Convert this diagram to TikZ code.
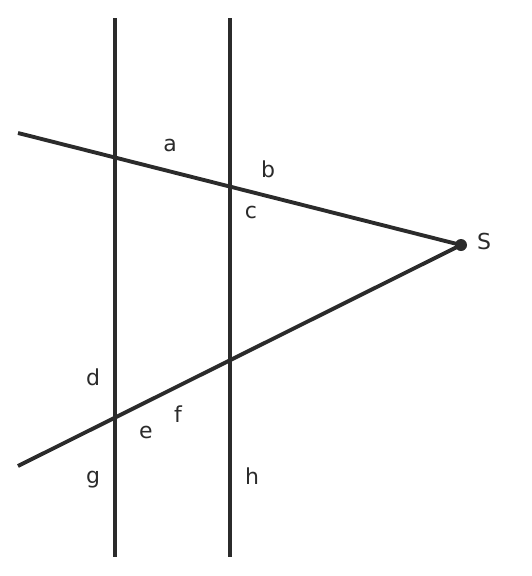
\documentclass[tikz,border=0pt]{standalone}
\usepackage{fontspec}
\setmainfont{DejaVu Sans}
\usepackage{tikz}
\usetikzlibrary{positioning,calc}
\definecolor{ink}{HTML}{2B2B2B}

\begin{document}
\begin{tikzpicture}[x=0.75pt,y=-0.75pt,
  ray/.style={draw=ink, line width=2.9pt},
  lbl/.style={text=ink, inner sep=0pt, font=\fontsize{16.5}{18}\selectfont}]
\useasboundingbox (0,0) rectangle (532,576);
% Parallels
\coordinate (Ltop) at (115,18);
\coordinate (Lbot) at (115,557);
\coordinate (Rtop) at (230,18);
\coordinate (Rbot) at (230,557);
\draw[ray] (Ltop) -- (Lbot);
\draw[ray] (Rtop) -- (Rbot);

% Point S and the two rays
\node[circle, fill=ink, inner sep=0pt, minimum size=9pt] (S) at (461,245) {};
\node[lbl] (Slbl) at (484,241) {S};
\coordinate (Up) at (18,133);
\coordinate (Lo) at (18,466);
\draw[ray] (Up) -- (S.center);
\draw[ray] (Lo) -- (S.center);

% Angle labels
\node[lbl] (a) at (170,145) {a};
\node[lbl] (b) at (268,169) {b};
\node[lbl] (c) at (251,212) {c};
\node[lbl] (d) at (93,377) {d};
\node[lbl] (e) at (146,432) {e};
\node[lbl] (f) at (178,414) {f};
\node[lbl] (g) at (93,480) {g};
\node[lbl] (h) at (252,476) {h};
\end{tikzpicture}
\end{document}
